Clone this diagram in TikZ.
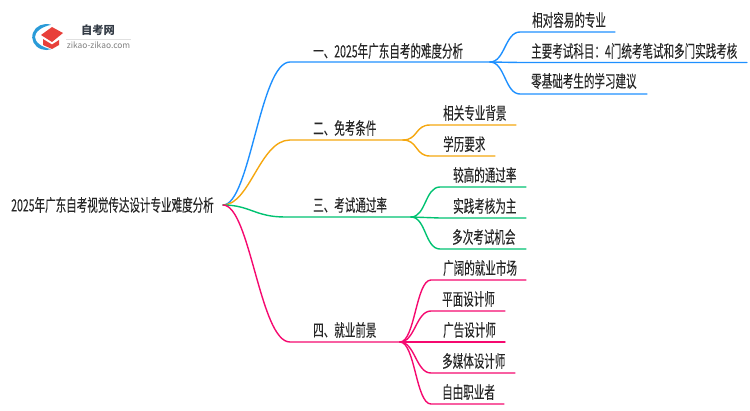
\documentclass[tikz,border=0pt]{standalone}
\usepackage{fontspec}
\setmainfont[FakeStretch=0.62,FakeBold=0.05]{Noto Sans CJK SC}
\newfontfamily\logofont{Noto Sans CJK SC}
\definecolor{bblue}{HTML}{1E90FF}
\definecolor{borange}{HTML}{F5A70F}
\definecolor{bgreen}{HTML}{00C271}
\definecolor{bpink}{HTML}{F5096F}
\definecolor{logoblue}{HTML}{2A9BD8}
\definecolor{logored}{HTML}{E8403A}
\definecolor{logotext}{HTML}{333B45}
\tikzset{
  label/.style={anchor=west, inner sep=0pt, font=\fontsize{17}{17}\selectfont, text=black!85},
  branch/.style={line width=1.4pt, line cap=round},
}
\begin{document}
\begin{tikzpicture}[x=1pt,y=-1pt]
  \useasboundingbox (0,0) rectangle (750,410);
  % logo
  \fill[logoblue] (51,24.8) arc (-70:-290:14 and 13) .. controls (41,47) and (35,42) .. (35,37) .. controls (35,32) and (41,27) .. (51,24.8) -- cycle;
  \fill[logored] (41,35) -- (52,27) -- (63,33) -- (52,42) -- cycle;
  \fill[logored] (43,39) -- (52,44.5) -- (59,40) -- (59,45) -- (52,49) -- (43,45) -- cycle;
  \draw[black!12, thin] (66,39) -- (131,39);
  \node[inner sep=0pt] (logoname) at (98,30.5) {\logofont\fontsize{11.3}{11.3}\selectfont\bfseries\textcolor{logotext}{自考网}};
  \node[inner sep=0pt] (logourl) at (98.5,45) {\logofont\fontsize{8.4}{8.4}\selectfont\textcolor{black!50}{zikao-zikao.com}};
  % root
  \node[label, inner xsep=0pt] (root) at (11,205) {2025年广东自考视觉传达设计专业难度分析};
  \coordinate (hub) at (223,205);
  % branches
  \foreach \nm/\col/\ax/\bx/\yy/\tx/\ty/\txt in {
      1/bblue/290/490/62/313/51/一、2025年广东自考的难度分析,
      2/borange/290/403/140/313/128/二、免考条件,
      3/bgreen/285/411/217/313/205/三、考试通过率,
      4/bpink/290/400/342/313/330/四、就业前景}
    {
      \node[label] (topic\nm) at (\tx,\ty) {\txt};
      \coordinate (a\nm) at (\ax,\yy);
      \coordinate (h\nm) at (\bx,\yy);
      \draw[branch, \col] (hub) .. controls +(27,0) and +(-30,0) .. (a\nm) -- (h\nm);
    }
  % leaves
  \foreach \nm/\up/\col/\sx/\ex/\yy/\tx/\ty/\txt in {
      11/1/bblue/520/615/32/532/20/相对容易的专业,
      12/1/bblue/520/747/62.5/531/51/主要考试科目：4门统考笔试和多门实践考核,
      13/1/bblue/520/647/94/531/81/零基础考生的学习建议,
      21/2/borange/430/516/125/443/113/相关专业背景,
      22/2/borange/430/495/156/443/144/学历要求,
      31/3/bgreen/440/526/187/453/175/较高的通过率,
      32/3/bgreen/440/526/218/453/206/实践考核为主,
      33/3/bgreen/440/526/249/452/237/多次考试机会,
      41/4/bpink/431/526/280/443/268/广阔的就业市场,
      42/4/bpink/431/505/311/442/299/平面设计师,
      43/4/bpink/431/505/342/443/330/广告设计师,
      44/4/bpink/431/515/373/442/361/多媒体设计师,
      45/4/bpink/431/504/404/442/392/自由职业者}
    {
      \node[label] (leaf\nm) at (\tx,\ty) {\txt};
      \coordinate (s\nm) at (\sx,\yy);
      \coordinate (e\nm) at (\ex,\yy);
      \draw[branch, \col] (h\up) .. controls +(15,0) and +(-15,0) .. (s\nm) -- (e\nm);
    }
\end{tikzpicture}
\end{document}
